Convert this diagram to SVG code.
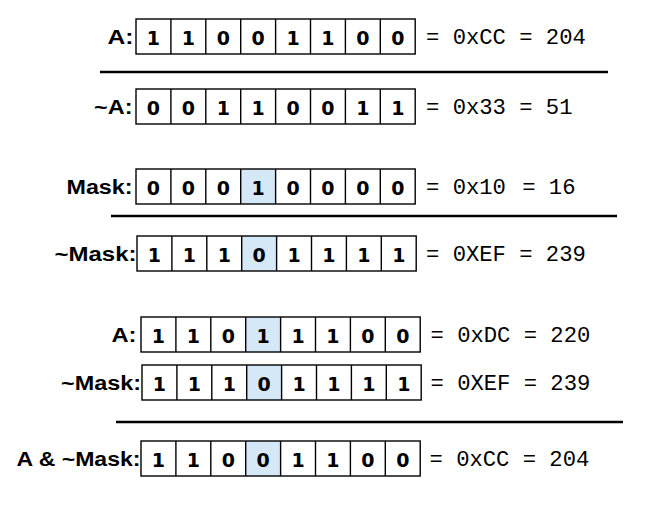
<svg xmlns="http://www.w3.org/2000/svg" width="645" height="506" viewBox="0 0 645 506">
<style>
.box{fill:none;stroke:#000;stroke-width:1.4}
.sep{stroke:#000;stroke-width:1.4}
.hl{fill:#d5e8f8;stroke:none}
.lbl{font-family:"Liberation Sans",Arial,sans-serif;font-weight:bold;font-size:20px;fill:#000;text-anchor:end}
.bit{font-family:"DejaVu Sans",Verdana,sans-serif;font-weight:bold;font-size:19px;fill:#000;text-anchor:middle}
.val{font-family:"Liberation Mono","Courier New",monospace;font-size:22.2px;fill:#000}
.rule{stroke:#000;stroke-width:2.6}
</style>
<defs>
<g id="cells">
<rect class="box" x="0" y="0" width="279.2" height="35"/>
<path class="sep" d="M34.9 0V35M69.8 0V35M104.7 0V35M139.6 0V35M174.5 0V35M209.4 0V35M244.3 0V35"/>
</g>
<rect id="hlcell" class="hl" x="104.7" y="0" width="34.9" height="35"/>
</defs>
<g id="connectors">
<line class="rule" x1="100" y1="72" x2="608" y2="72"/>
<line class="rule" x1="111" y1="216" x2="617" y2="216"/>
<line class="rule" x1="116" y1="422" x2="623" y2="422"/>
</g>
<g id="row1" transform="translate(136,19)">
<text class="lbl" x="-2.5" y="25" textLength="26" lengthAdjust="spacingAndGlyphs">A:</text>
<use href="#cells"/>
<text class="bit" y="26"><tspan x="17.45">1</tspan><tspan x="52.35">1</tspan><tspan x="87.25">0</tspan><tspan x="122.15">0</tspan><tspan x="157.05">1</tspan><tspan x="191.95">1</tspan><tspan x="226.85">0</tspan><tspan x="261.75">0</tspan></text>
<text class="val" x="290" y="25">= 0xCC = 204</text>
</g>
<g id="row2" transform="translate(136,89)">
<text class="lbl" x="-3.5" y="25" textLength="38.5" lengthAdjust="spacingAndGlyphs">~A:</text>
<use href="#cells"/>
<text class="bit" y="26"><tspan x="17.45">0</tspan><tspan x="52.35">0</tspan><tspan x="87.25">1</tspan><tspan x="122.15">1</tspan><tspan x="157.05">0</tspan><tspan x="191.95">0</tspan><tspan x="226.85">1</tspan><tspan x="261.75">1</tspan></text>
<text class="val" x="290" y="25">= 0x33 = 51</text>
</g>
<g id="row3" transform="translate(136,169)">
<text class="lbl" x="-3.5" y="25" textLength="66" lengthAdjust="spacingAndGlyphs">Mask:</text>
<use href="#hlcell"/>
<use href="#cells"/>
<text class="bit" y="26"><tspan x="17.45">0</tspan><tspan x="52.35">0</tspan><tspan x="87.25">0</tspan><tspan x="122.15">1</tspan><tspan x="157.05">0</tspan><tspan x="191.95">0</tspan><tspan x="226.85">0</tspan><tspan x="261.75">0</tspan></text>
<text class="val" x="290" y="25">= 0x10<tspan dx="3"> = 16</tspan></text>
</g>
<g id="row4" transform="translate(137,236)">
<text class="lbl" x="-0.5" y="25" textLength="82" lengthAdjust="spacingAndGlyphs">~Mask:</text>
<use href="#hlcell"/>
<use href="#cells"/>
<text class="bit" y="26"><tspan x="17.45">1</tspan><tspan x="52.35">1</tspan><tspan x="87.25">1</tspan><tspan x="122.15">0</tspan><tspan x="157.05">1</tspan><tspan x="191.95">1</tspan><tspan x="226.85">1</tspan><tspan x="261.75">1</tspan></text>
<text class="val" x="289" y="25">= 0XEF = 239</text>
</g>
<g id="row5" transform="translate(141,317)">
<text class="lbl" x="-4.5" y="25" textLength="25" lengthAdjust="spacingAndGlyphs">A:</text>
<use href="#hlcell"/>
<use href="#cells"/>
<text class="bit" y="26"><tspan x="17.45">1</tspan><tspan x="52.35">1</tspan><tspan x="87.25">0</tspan><tspan x="122.15">1</tspan><tspan x="157.05">1</tspan><tspan x="191.95">1</tspan><tspan x="226.85">0</tspan><tspan x="261.75">0</tspan></text>
<text class="val" x="289.5" y="25">= 0xDC = 220</text>
</g>
<g id="row6" transform="translate(142,365)">
<text class="lbl" x="-1" y="25" textLength="80" lengthAdjust="spacingAndGlyphs">~Mask:</text>
<use href="#hlcell"/>
<use href="#cells"/>
<text class="bit" y="26"><tspan x="17.45">1</tspan><tspan x="52.35">1</tspan><tspan x="87.25">1</tspan><tspan x="122.15">0</tspan><tspan x="157.05">1</tspan><tspan x="191.95">1</tspan><tspan x="226.85">1</tspan><tspan x="261.75">1</tspan></text>
<text class="val" x="288.5" y="25">= 0XEF = 239</text>
</g>
<g id="row7" transform="translate(141,441)">
<text class="lbl" x="-0.5" y="25" textLength="124" lengthAdjust="spacingAndGlyphs">A &amp; ~Mask:</text>
<use href="#hlcell"/>
<use href="#cells"/>
<text class="bit" y="26"><tspan x="17.45">1</tspan><tspan x="52.35">1</tspan><tspan x="87.25">0</tspan><tspan x="122.15">0</tspan><tspan x="157.05">1</tspan><tspan x="191.95">1</tspan><tspan x="226.85">0</tspan><tspan x="261.75">0</tspan></text>
<text class="val" x="288.5" y="25">= 0xCC = 204</text>
</g>
</svg>
